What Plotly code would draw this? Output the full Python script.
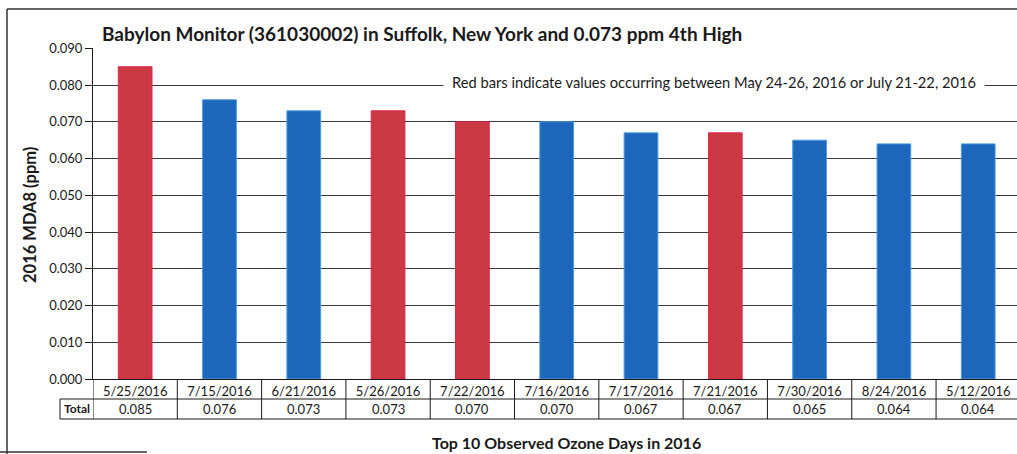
import plotly.graph_objects as go

# Top observed ozone days at the Babylon monitor, 2016 (MDA8, ppm)
dates = ["5/25/2016", "7/15/2016", "6/21/2016", "5/26/2016", "7/22/2016", "7/16/2016",
         "7/17/2016", "7/21/2016", "7/30/2016", "8/24/2016", "5/12/2016"]
values = [0.085, 0.076, 0.073, 0.073, 0.070, 0.070, 0.067, 0.067, 0.065, 0.064, 0.064]
# Days inside May 24-26 or July 21-22 are flagged
flagged = [True, False, False, True, True, False, False, True, False, False, False]

y_ticks = [0.000, 0.010, 0.020, 0.030, 0.040, 0.050, 0.060, 0.070, 0.080, 0.090]

RED, RED_EDGE = "#CB3A43", "#E2234C"
BLUE, BLUE_EDGE = "#1C66BC", "#4A9BE0"

W, H = 1017, 454
L, R, T, B = 93, 1017, 48, 379   # plot area in pixels


def px(x):
    return (x - L) / (R - L)


def py(y):
    return (B - y) / (B - T)


FONT = "Lato"
INK = "#1a1a1a"

fig = go.Figure()
fig.add_trace(go.Bar(
    x=dates, y=values, width=0.4,
    marker=dict(color=[RED if f else BLUE for f in flagged],
                line=dict(color=[RED_EDGE if f else BLUE_EDGE for f in flagged], width=1)),
    hoverinfo="x+y", showlegend=False,
))

shapes = []
line = dict(color=INK, width=1)
# data table grid under the axis
row1, row2 = py(399), py(419)
shapes.append(dict(type="line", xref="paper", yref="paper", x0=px(60), x1=1.0, y0=row1, y1=row1, line=line))
shapes.append(dict(type="line", xref="paper", yref="paper", x0=px(60), x1=1.0, y0=row2, y1=row2, line=line))
shapes.append(dict(type="line", xref="paper", yref="paper", x0=px(60), x1=px(60), y0=row1, y1=row2, line=line))
for i in range(len(dates)):
    xb = i - 0.5
    shapes.append(dict(type="line", xref="x", yref="paper", x0=xb, x1=xb, y0=0, y1=row2, line=line))
# outer frame of the chart
frame = dict(color="#333333", width=1.5)
shapes.append(dict(type="line", xref="paper", yref="paper", x0=px(7), x1=px(7), y0=py(9), y1=py(454), line=frame))
shapes.append(dict(type="line", xref="paper", yref="paper", x0=px(7), x1=1.0, y0=py(9), y1=py(9), line=frame))
shapes.append(dict(type="line", xref="paper", yref="paper", x0=px(0), x1=px(147), y0=py(452), y1=py(452), line=frame))

annotations = [
    dict(text="<b>Babylon Monitor (361030002) in Suffolk, New York and 0.073 ppm 4th High</b>",
         xref="paper", yref="paper", x=px(100), y=py(33), xanchor="left", yanchor="middle",
         showarrow=False, font=dict(family=FONT, size=19, color=INK)),
    dict(text="<b>2016 MDA8 (ppm)</b>", textangle=-90,
         xref="paper", yref="paper", x=px(30), y=py(215), xanchor="center", yanchor="middle",
         showarrow=False, font=dict(family=FONT, size=16.5, color=INK)),
    dict(text="<b>Top 10 Observed Ozone Days in 2016</b>",
         xref="paper", yref="paper", x=px(566), y=py(442), xanchor="center", yanchor="middle",
         showarrow=False, font=dict(family=FONT, size=16, color=INK)),
    dict(text="Red bars indicate values occurring between May 24-26, 2016 or July 21-22, 2016",
         xref="paper", yref="paper", x=px(714), y=py(82), xanchor="center", yanchor="middle",
         showarrow=False, bgcolor="white", borderpad=8,
         font=dict(family=FONT, size=14.7, color=INK)),
    dict(text="<b>Total</b>", xref="paper", yref="paper", x=px(77), y=py(409),
         xanchor="center", yanchor="middle", showarrow=False,
         font=dict(family=FONT, size=12, color=INK)),
]
for d, v in zip(dates, values):
    annotations.append(dict(text=f"{v:.3f}", xref="x", yref="paper", x=d, y=py(409),
                            xanchor="center", yanchor="middle", showarrow=False,
                            font=dict(family=FONT, size=13, color=INK)))

fig.update_layout(
    width=W, height=H,
    margin=dict(l=L, r=W - R, t=T, b=H - B, pad=0),
    paper_bgcolor="white", plot_bgcolor="white",
    font=dict(family=FONT, color=INK),
    shapes=shapes, annotations=annotations,
    xaxis=dict(type="category", range=[-0.5, 10.46], showline=True, linecolor=INK, linewidth=1,
               ticks="", showgrid=False, tickfont=dict(family=FONT, size=13, color=INK),
               ticklabelstandoff=0),
    yaxis=dict(range=[0, 0.0901], tickvals=y_ticks, tickformat=".3f",
               showline=True, linecolor=INK, linewidth=1,
               ticks="outside", ticklen=7, tickcolor=INK,
               showgrid=True, gridcolor="#3a3a3a", gridwidth=1, zeroline=False,
               tickfont=dict(family=FONT, size=13, color=INK)),
    bargap=0.6,
)

fig.write_html("out.html")
